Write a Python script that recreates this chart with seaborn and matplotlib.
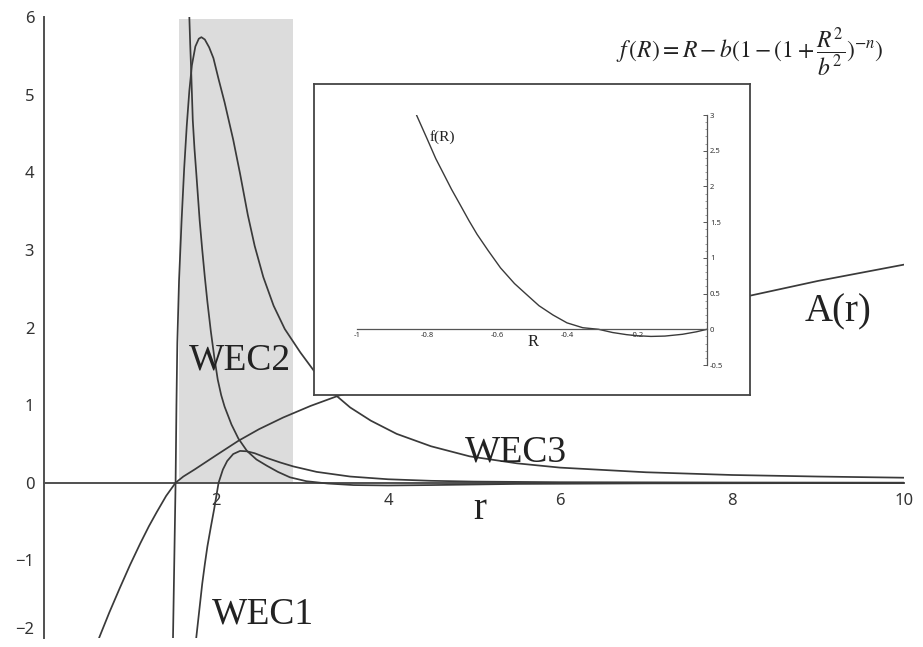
import numpy as np
import pandas as pd
import seaborn as sns
import matplotlib
matplotlib.use("Agg")
import matplotlib.pyplot as plt
from matplotlib.ticker import MultipleLocator, FuncFormatter, FixedLocator

# ---------------- data ----------------
# A(r)
a_r = [0.64, 0.76, 0.88, 1.0, 1.12, 1.22, 1.31, 1.42, 1.53, 1.62, 1.75, 2.01,
       2.26, 2.5, 2.78, 3.1, 3.42, 4.5, 6.0, 7.2, 8.21, 9.0, 10.0]
a_val = [-2.0, -1.67, -1.36, -1.06, -0.78, -0.56, -0.38, -0.17, 0.0, 0.08, 0.17, 0.36,
         0.54, 0.69, 0.84, 0.99, 1.12, 1.45, 1.88, 2.17, 2.41, 2.6, 2.81]

# tall peaked curve with long tail
wec3_r = [1.50, 1.515, 1.53, 1.54, 1.55, 1.57, 1.60, 1.63, 1.66, 1.69, 1.72, 1.76,
          1.80, 1.83, 1.87, 1.92, 1.97, 2.03, 2.10, 2.20, 2.28, 2.37, 2.45, 2.55,
          2.67, 2.80, 2.98, 3.14, 3.38, 3.56, 3.80, 4.10, 4.50, 4.95, 5.50, 6.0,
          7.0, 8.0, 9.0, 10.0]
wec3_val = [-2.0, -1.0, 0.0, 1.0, 1.8, 2.6, 3.38, 4.05, 4.6, 5.05, 5.38, 5.62,
            5.72, 5.74, 5.71, 5.61, 5.47, 5.2, 4.9, 4.42, 3.98, 3.45, 3.05, 2.65,
            2.28, 1.98, 1.68, 1.44, 1.14, 0.97, 0.8, 0.63, 0.47, 0.34, 0.25, 0.195,
            0.135, 0.1, 0.08, 0.065]

# steep decreasing curve
wec2_r = [1.69, 1.70, 1.71, 1.73, 1.75, 1.77, 1.81, 1.84, 1.87, 1.90, 1.94, 1.98,
          2.02, 2.06, 2.10, 2.18, 2.26, 2.36, 2.47, 2.59, 2.72, 2.86, 3.05, 3.3,
          3.6, 4.0, 4.5, 5.5, 7.0, 10.0]
wec2_val = [6.0, 5.65, 5.35, 4.67, 4.3, 4.0, 3.38, 3.0, 2.65, 2.33, 1.95, 1.62,
            1.33, 1.13, 0.98, 0.75, 0.57, 0.41, 0.3, 0.22, 0.14, 0.07, 0.02, -0.01,
            -0.03, -0.035, -0.03, -0.015, -0.008, -0.003]

# hump curve
wec1_r = [1.77, 1.79, 1.81, 1.84, 1.87, 1.90, 1.94, 1.98, 2.03, 2.08, 2.13, 2.20,
          2.28, 2.36, 2.45, 2.59, 2.75, 2.90, 3.17, 3.56, 4.0, 4.5, 5.0, 6.0,
          8.0, 10.0]
wec1_val = [-2.0, -1.8, -1.6, -1.3, -1.05, -0.82, -0.57, -0.33, 0.0, 0.17, 0.28, 0.37,
            0.41, 0.405, 0.38, 0.32, 0.26, 0.21, 0.14, 0.08, 0.045, 0.025, 0.015, 0.007,
            0.003, 0.001]

# highlighted band
band_r = [1.57, 2.90]
band_top = 5.97

# inset: f(R)
f_R = [-0.83, -0.80, -0.775, -0.754, -0.73, -0.706, -0.68, -0.657, -0.625, -0.59,
       -0.55, -0.514, -0.48, -0.44, -0.40, -0.355, -0.31, -0.27, -0.23, -0.20,
       -0.16, -0.12, -0.07, -0.03, 0.0]
f_val = [3.0, 2.67, 2.39, 2.19, 1.96, 1.75, 1.52, 1.33, 1.10, 0.86,
         0.64, 0.48, 0.33, 0.2, 0.09, 0.022, 0.0, -0.045, -0.075, -0.09,
         -0.1, -0.095, -0.07, -0.035, 0.0]

main_xticks = [2, 4, 6, 8, 10]
main_yticks = [-2, -1, 0, 1, 2, 3, 4, 5, 6]
inset_xticks = [-1, -0.8, -0.6, -0.4, -0.2]
inset_yticks = [-0.5, 0, 0.5, 1, 1.5, 2, 2.5, 3]

# ---------------- style ----------------
sns.set_style("white")
plt.rcParams["font.family"] = ["Noto Sans", "DejaVu Sans"]
plt.rcParams["mathtext.fontset"] = "stix"

W, H = 923, 647
fig = plt.figure(figsize=(W / 100, H / 100), dpi=100)
fig.patch.set_facecolor("white")

LINE = "#3a3a3a"
AXC = "#505050"
SERIF = "Liberation Serif"

ax = fig.add_axes([44 / W, 1 - 638 / H, 860 / W, 621 / H])
ax.set_facecolor("white")
ax.set_xlim(0, 10)
ax.set_ylim(-2, 6)

ax.fill_between(band_r, 0, band_top, color="#dcdcdc", lw=0, zorder=0)

for xs, ys in [(a_r, a_val), (wec3_r, wec3_val), (wec2_r, wec2_val), (wec1_r, wec1_val)]:
    df = pd.DataFrame({"r": xs, "v": ys})
    sns.lineplot(data=df, x="r", y="v", ax=ax, color=LINE, lw=1.25,
                 sort=False, estimator=None, zorder=3)

for side in ["top", "right"]:
    ax.spines[side].set_visible(False)
for side in ["left", "bottom"]:
    ax.spines[side].set_position(("data", 0))
    ax.spines[side].set_color(AXC)
    ax.spines[side].set_linewidth(1.4)
    ax.spines[side].set_zorder(2)

ax.set_xticks(main_xticks)
ax.set_yticks(main_yticks)
ax.xaxis.set_minor_locator(MultipleLocator(0.4))
ax.yaxis.set_minor_locator(MultipleLocator(0.2))
ax.tick_params(axis="y", which="major", direction="out", length=5, width=1,
               color=AXC, labelsize=12, labelcolor="#333333", pad=2)
ax.tick_params(axis="y", which="minor", direction="out", length=3, width=0.8, color="#888888")
ax.tick_params(axis="x", which="major", direction="inout", length=5, width=1,
               color=AXC, labelsize=12, labelcolor="#333333", pad=5)
ax.tick_params(axis="x", which="minor", direction="in", length=2.5, width=0.8, color="#888888")
ax.set_xlabel("")
ax.set_ylabel("")
# keep the lowest tick label inside the canvas
ax.get_yticklabels()[0].set_verticalalignment("bottom")

# curve labels
def ftext(px, py, s, size, **kw):
    fig.text(px / W, 1 - py / H, s, fontsize=size, family=SERIF, color="#222222",
             ha="center", va="baseline", **kw)

ftext(240, 370, "WEC2", 27)
ftext(516, 461, "WEC3", 27)
ftext(263, 623, "WEC1", 27)
ftext(838, 321, "A(r)", 28)
ftext(480, 519, "r", 28)

fig.text(750 / W, 1 - 52 / H, r"$f\,(R) = R - b(1 - (1 + \dfrac{R^2}{b^2})^{-n})$",
         fontsize=17, ha="center", va="center", color="#222222")

# ---------------- inset ----------------
box = fig.add_axes([314 / W, 1 - 395 / H, 436 / W, 311 / H])
box.set_facecolor("white")
box.set_xticks([])
box.set_yticks([])
for s in box.spines.values():
    s.set_color("#444444")
    s.set_linewidth(1.3)

ins = fig.add_axes([357 / W, 1 - 365 / H, 350 / W, 250 / H])
ins.patch.set_alpha(0)
ins.set_xlim(-1, 0)
ins.set_ylim(-0.5, 3)
sns.lineplot(x=f_R, y=f_val, ax=ins, color=LINE, lw=1.0, sort=False, estimator=None)
ins.spines["top"].set_visible(False)
ins.spines["left"].set_visible(False)
ins.spines["bottom"].set_position(("data", 0))
for s in ["bottom", "right"]:
    ins.spines[s].set_color("#555555")
    ins.spines[s].set_linewidth(0.9)
ins.yaxis.tick_right()
ins.xaxis.set_major_locator(FixedLocator(inset_xticks))
ins.yaxis.set_major_locator(FixedLocator(inset_yticks))
ins.xaxis.set_minor_locator(MultipleLocator(0.04))
ins.yaxis.set_minor_locator(MultipleLocator(0.1))
fmt = FuncFormatter(lambda v, p: f"{v:g}")
ins.xaxis.set_major_formatter(fmt)
ins.yaxis.set_major_formatter(fmt)
ins.tick_params(axis="both", which="major", direction="in", length=3, width=0.7,
                color="#555555", labelsize=5.5, labelcolor="#333333", pad=2)
ins.tick_params(axis="both", which="minor", direction="in", length=1.5, width=0.5, color="#777777")
ins.set_xlabel("")
ins.set_ylabel("")

ftext(442, 141, "f(R)", 11)
ftext(533, 346, "R", 12)

fig.savefig("out.png", dpi=100, facecolor="white")
